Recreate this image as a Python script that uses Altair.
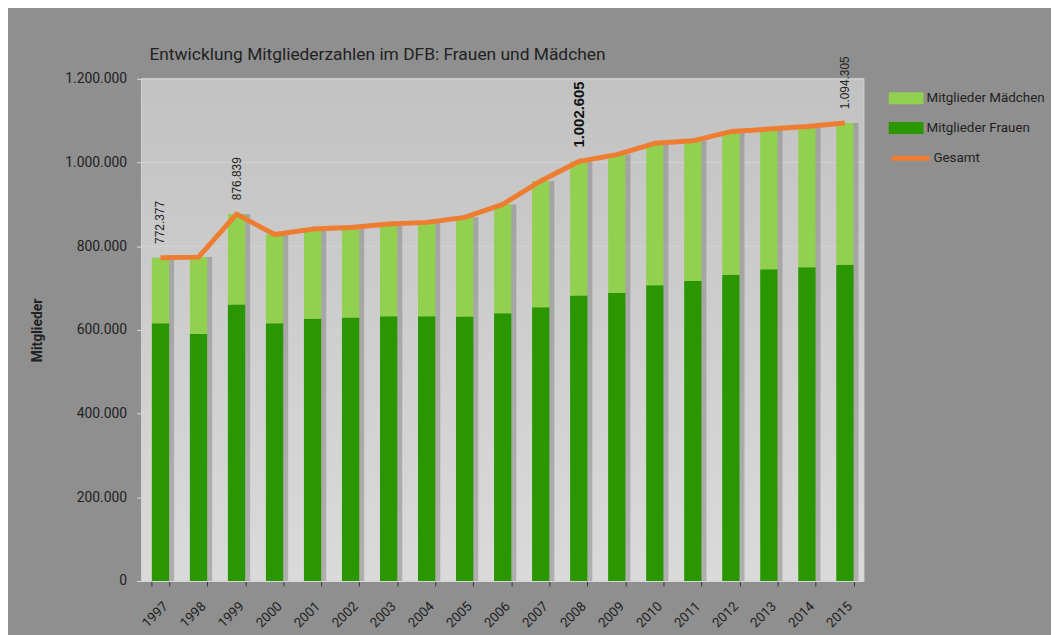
import altair as alt
import pandas as pd

# ---- data ----
years = [str(y) for y in range(1997, 2016)]
frauen = [616000, 590000, 661000, 616000, 627000, 630000, 633000, 633000, 632000,
          640000, 654000, 682000, 688000, 707000, 717000, 732000, 745000, 750000, 756000]
gesamt = [772377, 774000, 876839, 828000, 841000, 845000, 853000, 857000, 869000,
          900000, 956000, 1002605, 1019000, 1046000, 1052000, 1074000, 1080000, 1086000, 1094305]
label_years = ["1997", "1999", "2015"]
bold_label_years = ["2008"]
series_names = ["Mitglieder Mädchen", "Mitglieder Frauen"]
series_colors = ["#92d050", "#2a9700"]
line_name = "Gesamt"
line_color = "#ef7d31"
y_ticks = [0, 200000, 400000, 600000, 800000, 1000000, 1200000]
title_text = "Entwicklung Mitgliederzahlen im DFB: Frauen und Mädchen"
y_title = "Mitglieder"

FONT = "Roboto, sans-serif"
NUMFONT = "Liberation Sans, Arial, sans-serif"

df = pd.DataFrame({
    "year": years,
    "Mitglieder Frauen": frauen,
    "Mitglieder Mädchen": [g - f for g, f in zip(gesamt, frauen)],
    "gesamt": gesamt,
    "label": [f"{g:,}".replace(",", ".") for g in gesamt],
})
grid_df = pd.DataFrame({"v": y_ticks[1:]})

W, H = 728, 506

x_enc = alt.X(
    "year:N",
    sort=years,
    scale=alt.Scale(paddingInner=0.545, paddingOuter=0.2725),
    axis=alt.Axis(
        title=None, labelAngle=315, labelFont=FONT, labelFontSize=13.5, labelColor="#222222",
        labelPadding=13, domainColor="#d8d8d8", domainWidth=1, tickColor="#333333",
        tickSize=5, tickBand="extent", grid=False, zindex=1,
    ),
)

y_axis = alt.Axis(
    title=y_title, values=y_ticks,
    labelExpr="replace(replace(format(datum.value, ',d'), ',', '.'), ',', '.')",
    labelFont=FONT, labelFontSize=14, labelColor="#222222", labelPadding=10,
    tickColor="#d8d8d8", tickSize=5, domain=False, grid=False,
    titleFont=FONT, titleFontSize=14, titleFontWeight="bold", titleColor="#222222",
    titlePadding=20, zindex=1,
)
y_scale = alt.Scale(domain=[0, 1200000], nice=False)

plot_bg = alt.Chart(alt.Data(values=[{"a": 1}])).mark_rect(
    color=alt.LinearGradient(
        gradient="linear",
        stops=[alt.GradientStop(offset=0, color="#dadada"), alt.GradientStop(offset=1, color="#c2c2c2")],
        x1=0, x2=0, y1=1, y2=0,
    ),
    stroke="#d2d2d2", strokeWidth=1,
).encode(
    x=alt.value(0), x2=alt.value(W), y=alt.value(0), y2=alt.value(H),
)

grid = alt.Chart(grid_df).mark_rule(color="#d6d6d6", opacity=0.7, strokeWidth=1).encode(
    y=alt.Y("v:Q", scale=y_scale, axis=y_axis),
)

base = alt.Chart(df)

shadow = base.mark_bar(xOffset=5, color="#6f6f6f", opacity=0.4).encode(
    x=x_enc,
    y=alt.Y("gesamt:Q", scale=y_scale, axis=y_axis),
)

bars = base.transform_fold(
    ["Mitglieder Frauen", "Mitglieder Mädchen"], as_=["series", "value"]
).transform_calculate(
    ord="datum.series === 'Mitglieder Frauen' ? 0 : 1"
).mark_bar().encode(
    x=x_enc,
    y=alt.Y("value:Q", stack="zero", scale=y_scale, axis=y_axis),
    color=alt.Color(
        "series:N",
        scale=alt.Scale(domain=series_names, range=series_colors),
        legend=alt.Legend(
            title=None, orient="none", legendX=753, legendY=2, padding=0,
            symbolType="M-1,-0.343L1,-0.343L1,0.343L-1,0.343Z", symbolSize=1225,
            symbolStrokeWidth=0, labelFont=FONT, labelFontSize=13.5, labelColor="#222222",
            labelOffset=3, rowPadding=6, labelLimit=300, zindex=1,
        ),
    ),
    order=alt.Order("ord:Q"),
)

line = base.transform_calculate(s=f"'{line_name}'").mark_line(
    strokeWidth=5, strokeJoin="round"
).encode(
    x=x_enc,
    y=alt.Y("gesamt:Q", scale=y_scale, axis=y_axis),
    stroke=alt.Stroke(
        "s:N",
        scale=alt.Scale(domain=[line_name], range=[line_color]),
        legend=alt.Legend(
            title=None, orient="none", legendX=753, legendY=58, padding=0,
            symbolType="stroke", symbolSize=1480, symbolStrokeWidth=5,
            labelFont=FONT, labelFontSize=13.5, labelColor="#222222", labelOffset=1, zindex=1,
        ),
    ),
)

labels = base.transform_filter(
    alt.FieldOneOfPredicate(field="year", oneOf=label_years)
).mark_text(
    angle=270, align="left", baseline="middle", dx=14, font=NUMFONT, fontSize=12, color="#222222"
).encode(
    x=x_enc,
    y=alt.Y("gesamt:Q", scale=y_scale, axis=y_axis),
    text="label:N",
)

bold_labels = base.transform_filter(
    alt.FieldOneOfPredicate(field="year", oneOf=bold_label_years)
).mark_text(
    angle=270, align="left", baseline="middle", dx=14, font=NUMFONT, fontSize=15,
    fontWeight="bold", color="#111111"
).encode(
    x=x_enc,
    y=alt.Y("gesamt:Q", scale=y_scale, axis=y_axis),
    text="label:N",
)

chart = alt.layer(plot_bg, grid, shadow, bars, line, labels, bold_labels).resolve_legend(
    color="independent", stroke="independent"
).properties(
    width=W, height=H,
    title=alt.Title(
        title_text, anchor="start", frame="group", dx=8, dy=20, offset=13, font=FONT,
        fontSize=17.5, fontWeight="normal", color="#222222",
    ),
    autosize=alt.AutoSizeParams(type="none"),
    padding={"left": 134.5, "top": 69, "right": 188.5, "bottom": 52},
    background="#8f8f8f",
).configure_view(
    stroke=None,
)

chart.save("out.html", embed_options={"renderer": "svg", "actions": False})
